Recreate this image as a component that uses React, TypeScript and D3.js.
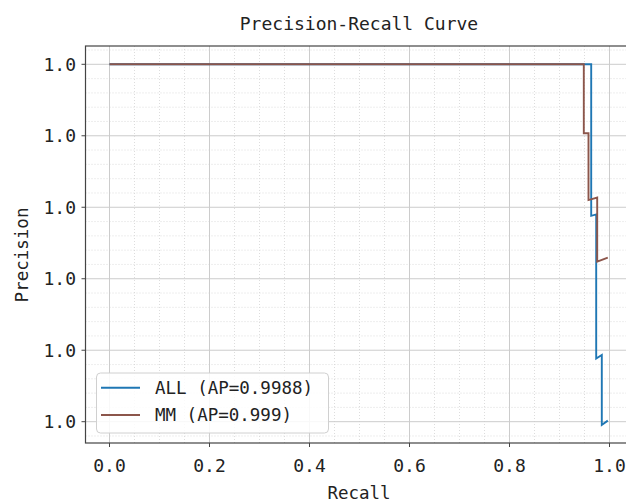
import * as d3 from 'd3';

// curve points
const allRecall = [0, 0.9634, 0.9634, 0.9734, 0.9734, 0.9846, 0.9846, 0.9966];
const allPrecision = [1, 1, 0.999576, 0.99958, 0.999177, 0.999187, 0.998991, 0.999003];
const mmRecall = [0, 0.9486, 0.9486, 0.958, 0.958, 0.9754, 0.9754, 0.9966];
const mmPrecision = [1, 1, 0.999807, 0.999807, 0.99962, 0.999627, 0.999448, 0.999459];

const xTicks = [0, 0.2, 0.4, 0.6, 0.8, 1.0];
const yTicks = [0.999, 0.9992, 0.9994, 0.9996, 0.9998, 1.0];
const legendLabels = ['ALL (AP=0.9988)', 'MM (AP=0.999)'];
const colors = ['#1f77b4', '#8c564b'];

const W = 626, H = 502;
const left = 85.5, right = 640, top = 46, bottom = 443;
const FONT = '"DejaVu Sans Mono", "Liberation Mono", monospace';

export default function App() {
  const x = d3.scaleLinear().domain([0, 1]).range([109.5, 609.5]);
  const y = d3.scaleLinear().domain([0.999, 1.0]).range([421.7, 64.3]);

  // minor grid: 4 steps per major on x, 5 on y
  const xMinor = d3.range(-2, 24).map(i => i * 0.05).filter((_, i) => (i + 2) % 4 !== 0);
  const yStep = 0.0002 / 5;
  const yMinor = d3.range(-5, 32).map(i => 0.999 + i * yStep).filter((_, i) => (i + 5) % 5 !== 0);

  const line = d3.line<[number, number]>().x(d => x(d[0])).y(d => y(d[1]));
  const series = [
    d3.zip(allRecall, allPrecision) as [number, number][],
    d3.zip(mmRecall, mmPrecision) as [number, number][],
  ];
  const fmt = d3.format('.1f');

  const inX = (v: number) => x(v) > left + 1 && x(v) < right;
  const inY = (v: number) => y(v) > top + 1 && y(v) < bottom - 1;

  return (
    <svg width={W} height={H} style={{position: 'absolute', left: 0, top: 0, background: '#fff'}}
         fontFamily={FONT}>
      <defs>
        <clipPath id="plot"><rect x={left} y={top} width={right - left} height={bottom - top}/></clipPath>
      </defs>
      {/* minor grid */}
      {xMinor.filter(inX).map(v => (
        <line key={'xm' + v} x1={x(v)} x2={x(v)} y1={top} y2={bottom}
              stroke="#d4d4d4" strokeWidth={0.8} strokeDasharray="1,2"/>
      ))}
      {yMinor.filter(inY).map(v => (
        <line key={'ym' + v} x1={left} x2={right} y1={y(v)} y2={y(v)}
              stroke="#d4d4d4" strokeWidth={0.8} strokeDasharray="1,2"/>
      ))}
      {/* major grid */}
      {xTicks.map(v => (
        <line key={'xg' + v} x1={x(v)} x2={x(v)} y1={top} y2={bottom} stroke="#cccccc" strokeWidth={1}/>
      ))}
      {yTicks.map(v => (
        <line key={'yg' + v} x1={left} x2={right} y1={y(v)} y2={y(v)} stroke="#cccccc" strokeWidth={1}/>
      ))}
      {/* curves */}
      <g clipPath="url(#plot)">
        {series.map((s, i) => (
          <path key={i} d={line(s) || ''} fill="none" stroke={colors[i]} strokeWidth={1.9}/>
        ))}
      </g>
      {/* spines */}
      <rect x={left} y={top} width={right - left} height={bottom - top} fill="none" stroke="#444" strokeWidth={1.2}/>
      {/* x axis */}
      {xTicks.map(v => (
        <g key={'xt' + v}>
          <line x1={x(v)} x2={x(v)} y1={bottom} y2={bottom + 4} stroke="#444" strokeWidth={1}/>
          <text x={x(v)} y={472} textAnchor="middle" fontSize={18} fill="#222">{fmt(v)}</text>
        </g>
      ))}
      {/* y axis */}
      {yTicks.map(v => (
        <g key={'yt' + v}>
          <line x1={left - 4} x2={left} y1={y(v)} y2={y(v)} stroke="#444" strokeWidth={1}/>
          <text x={76} y={y(v)} dy="0.36em" textAnchor="end" fontSize={18} fill="#222">{fmt(v)}</text>
        </g>
      ))}
      <text x={359} y={30} textAnchor="middle" fontSize={18} fill="#222">Precision-Recall Curve</text>
      <text x={359} y={499} textAnchor="middle" fontSize={17.5} fill="#222">Recall</text>
      <text transform={`translate(28,255) rotate(-90)`} textAnchor="middle" fontSize={17.5} fill="#222">Precision</text>
      {/* legend */}
      <rect x={96.5} y={373} width={232} height={60} rx={4} fill="#fff" fillOpacity={0.85}
            stroke="#d0d0d0" strokeWidth={1}/>
      {legendLabels.map((lab, i) => (
        <g key={lab}>
          <line x1={101} x2={140} y1={387.7 + i * 27.3} y2={387.7 + i * 27.3} stroke={colors[i]} strokeWidth={1.9}/>
          <text x={155} y={387.7 + i * 27.3} dy="0.36em" fontSize={17.5} fill="#222">{lab}</text>
        </g>
      ))}
    </svg>
  );
}
